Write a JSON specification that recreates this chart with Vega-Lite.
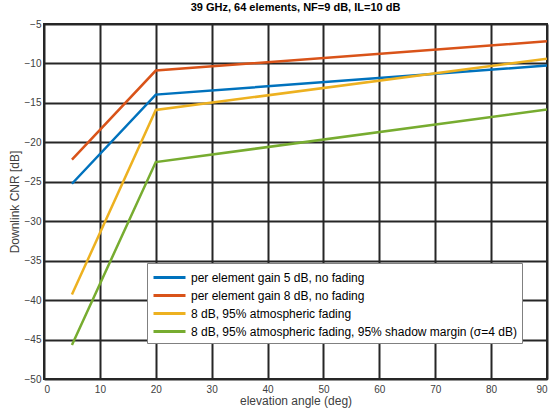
{
  "$schema": "https://vega.github.io/schema/vega-lite/v6.json",
  "width": 503,
  "height": 355,
  "autosize": {"type": "none"},
  "padding": {"left": 44, "top": 24, "right": 4, "bottom": 35},
  "background": "white",
  "config": {
    "font": "Liberation Sans",
    "view": {"stroke": "#262626", "strokeWidth": 2},
    "axis": {
      "grid": true,
      "gridColor": "#262626",
      "gridWidth": 2,
      "gridOpacity": 1,
      "ticks": false,
      "domain": false,
      "labelColor": "#404040",
      "labelFontSize": 10,
      "titleColor": "#404040",
      "titleFontSize": 12,
      "titleFontWeight": "normal"
    }
  },
  "title": {
    "text": "39 GHz, 64 elements, NF=9 dB, IL=10 dB",
    "fontSize": 11,
    "fontWeight": "bold",
    "color": "#000000",
    "offset": 6
  },
  "data": {
    "values": [
      {"elev": 5, "cnr": -25.25, "series": "per element gain 5 dB, no fading"},
      {"elev": 20, "cnr": -13.95, "series": "per element gain 5 dB, no fading"},
      {"elev": 90, "cnr": -10.27, "series": "per element gain 5 dB, no fading"},
      {"elev": 5, "cnr": -22.2, "series": "per element gain 8 dB, no fading"},
      {"elev": 20, "cnr": -10.9, "series": "per element gain 8 dB, no fading"},
      {"elev": 90, "cnr": -7.2, "series": "per element gain 8 dB, no fading"},
      {"elev": 5, "cnr": -39.3, "series": "8 dB, 95% atmospheric fading"},
      {"elev": 20, "cnr": -15.9, "series": "8 dB, 95% atmospheric fading"},
      {"elev": 90, "cnr": -9.4, "series": "8 dB, 95% atmospheric fading"},
      {"elev": 5, "cnr": -45.7, "series": "8 dB, 95% atmospheric fading, 95% shadow margin (σ=4 dB)"},
      {"elev": 20, "cnr": -22.5, "series": "8 dB, 95% atmospheric fading, 95% shadow margin (σ=4 dB)"},
      {"elev": 90, "cnr": -15.85, "series": "8 dB, 95% atmospheric fading, 95% shadow margin (σ=4 dB)"}
    ]
  },
  "mark": {"type": "line", "strokeWidth": 2.5, "clip": true},
  "encoding": {
    "x": {
      "field": "elev",
      "type": "quantitative",
      "scale": {"domain": [0, 90], "nice": false},
      "axis": {"values": [0, 10, 20, 30, 40, 50, 60, 70, 80, 90], "title": "elevation angle (deg)", "labelPadding": 5, "titlePadding": 1}
    },
    "y": {
      "field": "cnr",
      "type": "quantitative",
      "scale": {"domain": [-50, -5], "nice": false, "zero": false},
      "axis": {"values": [-50, -45, -40, -35, -30, -25, -20, -15, -10, -5], "title": "Downlink CNR [dB]", "labelPadding": 3, "titlePadding": 3}
    },
    "color": {
      "field": "series",
      "type": "nominal",
      "scale": {
        "domain": [
          "per element gain 5 dB, no fading",
          "per element gain 8 dB, no fading",
          "8 dB, 95% atmospheric fading",
          "8 dB, 95% atmospheric fading, 95% shadow margin (σ=4 dB)"
        ],
        "range": ["#0072BD", "#D95319", "#EDB120", "#77AC30"]
      },
      "legend": {
        "title": null,
        "orient": "none",
        "legendX": 103,
        "legendY": 239,
        "symbolType": "M-1,0L3,0",
        "symbolSize": 256,
        "symbolStrokeWidth": 3,
        "labelFontSize": 12,
        "labelColor": "#000000",
        "labelLimit": 500,
        "labelOffset": 20,
        "rowPadding": 2,
        "fillColor": "white",
        "strokeColor": "#808080",
        "padding": 5
      }
    }
  }
}
